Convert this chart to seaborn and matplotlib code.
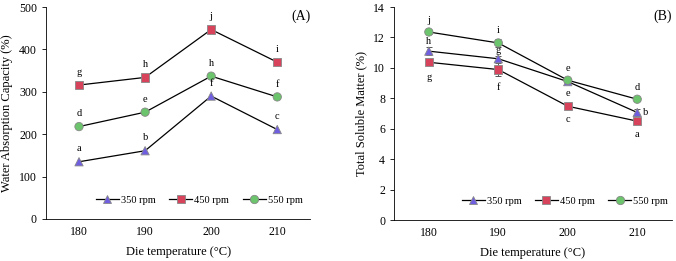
import pandas as pd
import seaborn as sns
import matplotlib.pyplot as plt
from matplotlib.lines import Line2D

# datos
temps = [180, 190, 200, 210]
speeds = ['350 rpm', '450 rpm', '550 rpm']

wac_350 = [135, 161, 290, 211]
wac_450 = [316, 334, 447, 370]
wac_550 = [218, 252, 337, 288]
wac_let_350 = ['a', 'b', 'f', 'c']
wac_let_450 = ['g', 'h', 'j', 'i']
wac_let_550 = ['d', 'e', 'h', 'f']

tsm_350 = [11.1, 10.6, 9.1, 7.07]
tsm_450 = [10.37, 9.89, 7.48, 6.5]
tsm_550 = [12.36, 11.64, 9.19, 7.94]
tsm_err_350 = [0.25, 0.15, 0.1, 0.25]
tsm_err_450 = [0.2, 0.4, 0.15, 0.1]
tsm_err_550 = [0.1, 0.25, 0.1, 0.1]
tsm_let_350 = ['h', 'g', 'e', 'b']
tsm_let_450 = ['g', 'f', 'c', 'a']
tsm_let_550 = ['j', 'i', 'e', 'd']

colors = {'350 rpm': '#6f5fe0', '450 rpm': '#d8435c', '550 rpm': '#6cc46c'}
markers = {'350 rpm': '^', '450 rpm': 's', '550 rpm': 'o'}


def make_df(vals, errs=None):
    rows = []
    for i, sp in enumerate(speeds):
        for j, t in enumerate(temps):
            e = errs[i][j] if errs else 0
            rows.append({'temp': t, 'speed': sp, 'val': vals[i][j], 'err': e})
    return pd.DataFrame(rows)


wac = make_df([wac_350, wac_450, wac_550])
tsm = make_df([tsm_350, tsm_450, tsm_550], [tsm_err_350, tsm_err_450, tsm_err_550])

plt.rcParams['font.family'] = ['Liberation Serif', 'DejaVu Serif']
fig = plt.figure(figsize=(6.76, 2.61), dpi=100)
ax1 = fig.add_axes([0.068, 0.161, 0.391, 0.812])
ax2 = fig.add_axes([0.583, 0.157, 0.411, 0.816])


def draw(ax, df):
    sns.lineplot(data=df, x='temp', y='val', units='speed', estimator=None,
                 color='black', lw=0.9, ax=ax, zorder=2)
    if df['err'].sum() > 0:
        ax.errorbar(df['temp'], df['val'], yerr=df['err'], fmt='none',
                    ecolor='#555555', elinewidth=0.7, capsize=2, capthick=0.7, zorder=2.5)
    sns.scatterplot(data=df, x='temp', y='val', hue='speed', style='speed',
                    palette=colors, markers=markers, s=36, edgecolor='#888888',
                    linewidth=0.6, ax=ax, legend=False, zorder=3)


draw(ax1, wac)
draw(ax2, tsm)

# letras de significancia
for vals, lets in zip([wac_350, wac_450, wac_550], [wac_let_350, wac_let_450, wac_let_550]):
    for t, v, l in zip(temps, vals, lets):
        ax1.annotate(l, (t, v), xytext=(0, 6), textcoords='offset points',
                     ha='center', va='bottom', fontsize=7.5)

let_off_2 = {'350 rpm': [(0, 4), (0, 3), (0, -12), (6, -3)],
             '450 rpm': [(0, -14), (0, -16), (0, -13), (0, -13)],
             '550 rpm': [(0, 5), (0, 6), (0, 5), (0, 5)]}
for sp, vals, lets in zip(speeds, [tsm_350, tsm_450, tsm_550], [tsm_let_350, tsm_let_450, tsm_let_550]):
    for t, v, l, off in zip(temps, vals, lets, let_off_2[sp]):
        ax2.annotate(l, (t, v), xytext=off, textcoords='offset points',
                     ha='center', va='bottom', fontsize=7.5)

handles = [Line2D([], [], color='black', lw=0.9, marker=markers[sp], markersize=6,
                  markerfacecolor=colors[sp], markeredgecolor='#888888', markeredgewidth=0.6)
           for sp in speeds]

for ax, ylab, ylim, yt, lab, leg_x in [
        (ax1, 'Water Absorption Capacity (%)', (0, 500), range(0, 501, 100), '(A)', 0.58),
        (ax2, 'Total Soluble Matter (%)', (0, 14), range(0, 15, 2), '(B)', 0.615)]:
    ax.set_xlim(175, 215)
    ax.set_ylim(*ylim)
    ax.set_xticks(temps)
    ax.set_yticks(list(yt))
    ax.tick_params(axis='x', length=0, labelsize=8.5, pad=5)
    ax.tick_params(axis='y', length=3, width=0.6, labelsize=8.5)
    ax.set_xlabel('Die temperature (\u00b0C)', fontsize=9, labelpad=6)
    ax.set_ylabel(ylab, fontsize=9)
    for s in ['top', 'right']:
        ax.spines[s].set_visible(False)
    for s in ['left', 'bottom']:
        ax.spines[s].set_linewidth(0.6)
    ax.text(1.0, 0.99, lab, transform=ax.transAxes, ha='right', va='top', fontsize=10)
    ax.legend(handles, speeds, loc='center', bbox_to_anchor=(leg_x, 0.09), ncol=3,
              frameon=False, fontsize=7.5, handlelength=2.2, handletextpad=0.2,
              columnspacing=1.3)

fig.savefig('out.png', dpi=100)
